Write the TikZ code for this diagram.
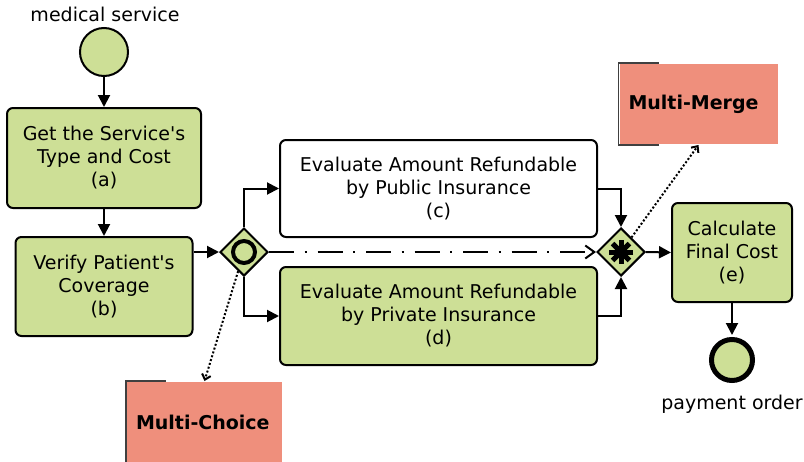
\documentclass[tikz,border=0pt]{standalone}
\usepackage{fontspec}
\setmainfont{DejaVu Sans}[Ligatures=TeXOff]
\usepackage{xcolor}
\usepackage{tikz}
\usetikzlibrary{shapes, arrows.meta, calc, positioning}
\definecolor{taskgreen}{RGB}{205,223,150}
\definecolor{notesalmon}{RGB}{239,143,124}

\begin{document}
\begin{tikzpicture}[x=1pt, y=-1pt, line width=2pt,
	every node/.style={font=\fontsize{19}{23}\selectfont},
	task/.style={draw, rounded corners=6pt, fill=taskgreen, align=center, inner sep=0pt},
	gate/.style={draw, diamond, fill=taskgreen, minimum width=48pt, minimum height=48pt, inner sep=0pt},
	event/.style={draw, circle, fill=taskgreen, inner sep=0pt},
	note/.style={fill=notesalmon, font=\fontsize{19}{23}\selectfont\bfseries, align=left, minimum height=80pt, inner xsep=9pt},
	flow/.style={-{Triangle[length=12pt,width=12pt]}},
	assoc/.style={dotted, -{Straight Barb[length=5pt,width=9pt]}}]
							\useasboundingbox (0,0) rectangle (804,461);
							
							\node (startlbl) at (105,14) {medical service};
							\node[event, minimum size=48pt] (startev) at (104,52) {};
							\node[task, minimum width=194pt, minimum height=100pt] (gettype) at (104,158) {Get the Service's\\Type and Cost\\(a)};
							\node[task, minimum width=177pt, minimum height=99pt] (verify) at (104,286.5) {Verify Patient's\\Coverage\\(b)};
							
							\node[gate] (orsplit) at (244,252) {};
							\draw[line width=4pt] (orsplit) circle (11pt);
							
							\node[task, fill=white, minimum width=317pt, minimum height=97pt] (public) at (438.5,188.5) {Evaluate Amount Refundable\\by Public Insurance\\(c)};
							\node[task, minimum width=317pt, minimum height=98pt] (private) at (438.5,316) {Evaluate Amount Refundable\\by Private Insurance\\(d)};
							
							\node[gate] (ormerge) at (621,252) {};
							\foreach \a in {0,45,90,135}
								\draw[line width=5pt] ($(ormerge)+(\a:12pt)$) -- ($(ormerge)-(\a:12pt)$);
							
							\node[task, minimum width=120pt, minimum height=99pt] (calc) at (732,252.5) {Calculate\\Final Cost\\(e)};
							\node[event, line width=5pt, minimum size=41pt] (endev) at (732,360) {};
							\node (endlbl) at (732,404) {payment order};
							
							\node[note, text width=140pt] (mmerge) at (698.5,104) {Multi-Merge};
							\node[note, text width=137pt] (mchoice) at (204.5,422) {Multi-Choice};
							\draw[line width=1.5pt, black!75] ($(mmerge.north west)+(40,0)$) -- (mmerge.north west) -- (mmerge.south west) -- ++(40,0);
							\draw[line width=1.5pt, black!75] ($(mchoice.north west)+(40,0)$) -- (mchoice.north west) -- (mchoice.south west) -- ++(40,0);
							
							\draw[flow] (startev) -- (gettype);
							\draw[flow] (gettype) -- (verify);
							\draw[flow] (verify.east |- orsplit) -- (orsplit.west);
							\draw[flow] (orsplit.north) |- (public.west);
							\draw[flow] (orsplit.south) |- (private.west);
							\draw[flow] (public.east) -| (ormerge.north);
							\draw[flow] (private.east) -| (ormerge.south);
							\draw[dash pattern=on 25pt off 10.5pt on 2pt off 11pt, -{Straight Barb[length=9pt,width=13pt]}] (orsplit.east) -- (ormerge.west);
							\draw[flow] (ormerge.east) -- (calc.west);
							\draw[flow, shorten >=2pt] (calc) -- (endev);
							\draw[assoc] (ormerge) -- (mmerge.south);
							\draw[assoc] (orsplit) -- (mchoice.north);
\end{tikzpicture}
\end{document}
